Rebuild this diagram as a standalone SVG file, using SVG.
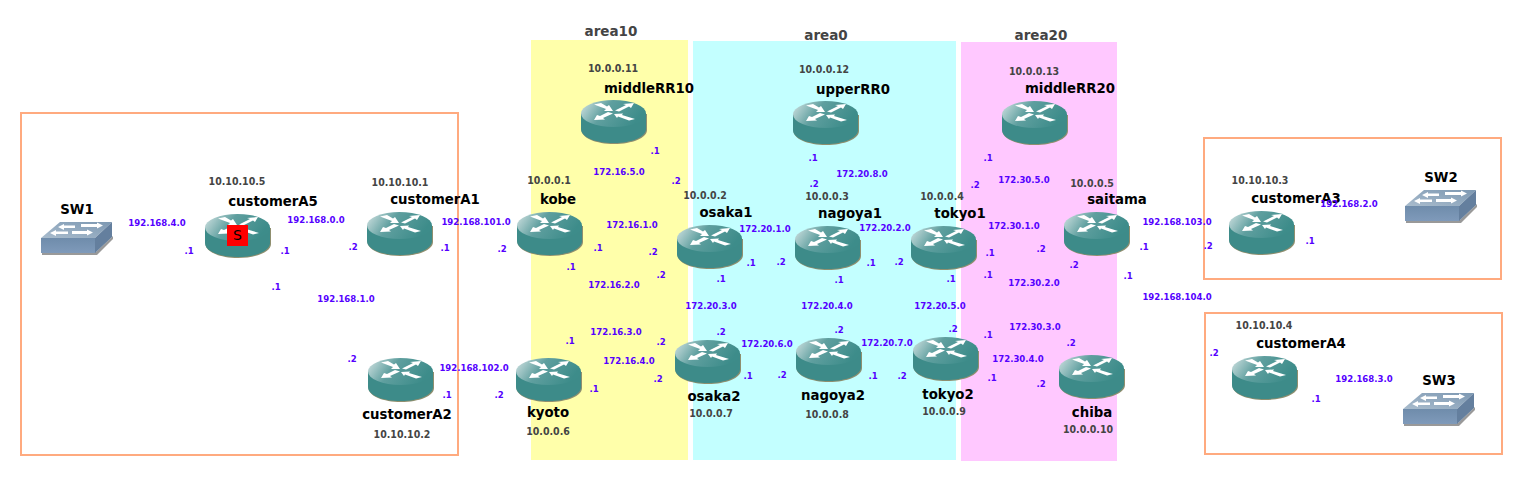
<svg xmlns="http://www.w3.org/2000/svg" width="1523" height="482" viewBox="0 0 1523 482">
<style>
text{font-family:"DejaVu Sans",sans-serif;font-weight:bold}
.n{font-size:13.300px;fill:#000;text-anchor:middle}
.a{font-size:10.500px;fill:#444;text-anchor:middle;font-stretch:condensed}
.t{font-size:13.500px;fill:#444;text-anchor:middle}
.s{font-size:9.500px;fill:#5500ff;text-anchor:middle;font-stretch:condensed}
.b{fill:#fff;stroke:#ffaa7f;stroke-width:2}
</style>
<defs>
<linearGradient id="rt" x1="0" y1="0" x2="1" y2="0.3"><stop offset="0" stop-color="#d5e4e4"/><stop offset="0.45" stop-color="#5f9f9f"/><stop offset="1" stop-color="#3d8c8a"/></linearGradient>
<linearGradient id="sf" x1="0" y1="0" x2="0" y2="1"><stop offset="0" stop-color="#6f8cab"/><stop offset="1" stop-color="#7f9aba"/></linearGradient>
<linearGradient id="st" x1="0" y1="1" x2="1" y2="0"><stop offset="0" stop-color="#a9bccd"/><stop offset="1" stop-color="#7d98b2"/></linearGradient>
<g id="router">
<path d="M0.500 14V30C0.500 38 15 44 33 44S66 38 66 30V14Z" fill="#8f8f6f"/>
<path d="M0 13V29C0 37 14 43 32.500 43S65 37 65 29V13Z" fill="#3d8b89"/>
<ellipse cx="32.500" cy="13.500" rx="32.500" ry="13.500" fill="url(#rt)"/>
<g fill="#fff">
<path d="M13 4.500L20 3L26 6.500L28 5L32 11L23 11L25 9Z"/>
<path d="M34 10.500L45 5L42 4L53 3L50 8L48 6.500L38 11.500Z"/>
<path d="M13 20L16 15L19 16L27 12L32 13.500L22 18L24 19.500Z"/>
<path d="M33 14L42 13.500L41 15L54 19L48 20.500L37 16.500L36 18Z"/>
</g>
</g>
<g id="switch">
<path d="M1 30H55L72 14V17L56 33H1Z" fill="#999"/>
<path d="M0 16L19 0H71L54 16Z" fill="url(#st)"/>
<path d="M0 16H54V31H0Z" fill="url(#sf)"/>
<path d="M54 16L71 0V15L54 31Z" fill="#647f9e"/>
<g fill="#fff">
<path d="M9 11L15 8V9.500H27V12H15V14Z"/>
<path d="M17 5L23 2V3.500H34V6H23V8Z"/>
<path d="M62 3.500L56 0.500V2H40V5H56V6.500Z"/>
<path d="M52 10.500L46 7.500V9H31V12H46V13.500Z"/>
</g>
</g>
</defs>
<g id="areas">
<rect x="531" y="40" width="157" height="420" fill="#ffffaa"/>
<rect x="693" y="41" width="263" height="419" fill="#c3ffff"/>
<rect x="961" y="42" width="156" height="419" fill="#ffc8ff"/>
<text class="t" x="611" y="36">area10</text>
<text class="t" x="826" y="40">area0</text>
<text class="t" x="1041" y="40">area20</text>
</g>
<g id="boxes">
<rect class="b" x="21" y="113" width="437" height="342"/>
<rect class="b" x="1204" y="138" width="297" height="141"/>
<rect class="b" x="1205" y="313" width="297" height="141"/>
</g>
<g id="connectors"></g>
<g id="SW1"><use href="#switch" x="41" y="222"/><text class="n" x="77" y="214">SW1</text></g>
<g id="customerA5"><use href="#router" x="205" y="214"/><rect x="227" y="225" width="21" height="21" fill="#f00"/><text x="237.500" y="240" font-size="14" text-anchor="middle" style="font-weight:normal">S</text><text class="a" x="237" y="185">10.10.10.5</text><text class="n" x="273" y="206">customerA5</text></g>
<g id="customerA1"><use href="#router" x="367" y="212"/><text class="a" x="400" y="186">10.10.10.1</text><text class="n" x="435" y="204">customerA1</text></g>
<g id="customerA2"><use href="#router" x="368" y="358"/><text class="n" x="407" y="419">customerA2</text><text class="a" x="402" y="438">10.10.10.2</text></g>
<g id="kobe"><use href="#router" x="517" y="212"/><text class="a" x="549" y="184">10.0.0.1</text><text class="n" x="558" y="204">kobe</text></g>
<g id="kyoto"><use href="#router" x="516" y="358"/><text class="n" x="548" y="417">kyoto</text><text class="a" x="548" y="435">10.0.0.6</text></g>
<g id="middleRR10"><use href="#router" x="581" y="100"/><text class="a" x="613" y="72">10.0.0.11</text><text class="n" x="649" y="92.500">middleRR10</text></g>
<g id="osaka1"><use href="#router" x="677" y="225"/><text class="a" x="705" y="199">10.0.0.2</text><text class="n" x="726" y="217">osaka1</text></g>
<g id="osaka2"><use href="#router" x="675" y="340"/><text class="n" x="714" y="401">osaka2</text><text class="a" x="711" y="417">10.0.0.7</text></g>
<g id="upperRR0"><use href="#router" x="793" y="101"/><text class="a" x="824" y="73">10.0.0.12</text><text class="n" x="853" y="94">upperRR0</text></g>
<g id="nagoya1"><use href="#router" x="795" y="226"/><text class="a" x="827" y="200">10.0.0.3</text><text class="n" x="850" y="218">nagoya1</text></g>
<g id="nagoya2"><use href="#router" x="796" y="338"/><text class="n" x="833" y="400">nagoya2</text><text class="a" x="827" y="418">10.0.0.8</text></g>
<g id="tokyo1"><use href="#router" x="911" y="226"/><text class="a" x="942" y="200">10.0.0.4</text><text class="n" x="960" y="218">tokyo1</text></g>
<g id="tokyo2"><use href="#router" x="913" y="337"/><text class="n" x="948" y="399">tokyo2</text><text class="a" x="944" y="415">10.0.0.9</text></g>
<g id="middleRR20"><use href="#router" x="1002" y="101"/><text class="a" x="1034" y="75">10.0.0.13</text><text class="n" x="1070" y="93">middleRR20</text></g>
<g id="saitama"><use href="#router" x="1064" y="212"/><text class="a" x="1092" y="187">10.0.0.5</text><text class="n" x="1117" y="204">saitama</text></g>
<g id="chiba"><use href="#router" x="1059" y="355"/><text class="n" x="1092" y="417">chiba</text><text class="a" x="1088" y="433">10.0.0.10</text></g>
<g id="customerA3"><use href="#router" x="1229" y="211"/><text class="a" x="1260" y="184">10.10.10.3</text><text class="n" x="1296" y="203">customerA3</text></g>
<g id="customerA4"><use href="#router" x="1232" y="356"/><text class="a" x="1264" y="329">10.10.10.4</text><text class="n" x="1301" y="348">customerA4</text></g>
<g id="SW2"><use href="#switch" x="1405" y="190"/><text class="n" x="1441" y="182">SW2</text></g>
<g id="SW3"><use href="#switch" x="1403" y="393"/><text class="n" x="1439" y="385">SW3</text></g>
<g id="labels">
<text class="s" x="157" y="226">192.168.4.0</text><text class="s" x="189" y="254">.1</text>
<text class="s" x="316" y="223">192.168.0.0</text><text class="s" x="285" y="254">.1</text><text class="s" x="353" y="250">.2</text>
<text class="s" x="276" y="290">.1</text><text class="s" x="346" y="302">192.168.1.0</text><text class="s" x="352" y="362">.2</text>
<text class="s" x="476" y="225">192.168.101.0</text><text class="s" x="445" y="251">.1</text><text class="s" x="502" y="252">.2</text>
<text class="s" x="474" y="371">192.168.102.0</text><text class="s" x="447" y="398">.1</text><text class="s" x="499" y="398">.2</text>
<text class="s" x="655" y="154">.1</text><text class="s" x="619" y="175">172.16.5.0</text><text class="s" x="676" y="184">.2</text>
<text class="s" x="632" y="228">172.16.1.0</text><text class="s" x="598" y="251">.1</text><text class="s" x="653" y="255">.2</text>
<text class="s" x="571" y="270">.1</text><text class="s" x="661" y="278">.2</text><text class="s" x="614" y="288">172.16.2.0</text>
<text class="s" x="616" y="335">172.16.3.0</text><text class="s" x="570" y="344">.1</text><text class="s" x="661" y="345">.2</text>
<text class="s" x="629" y="364">172.16.4.0</text><text class="s" x="658" y="382">.2</text><text class="s" x="594" y="392">.1</text>
<text class="s" x="765" y="232">172.20.1.0</text><text class="s" x="751" y="266">.1</text><text class="s" x="781" y="265">.2</text><text class="s" x="721" y="282">.1</text>
<text class="s" x="711" y="309">172.20.3.0</text><text class="s" x="721" y="335">.2</text><text class="s" x="767" y="347">172.20.6.0</text><text class="s" x="748" y="379">.1</text><text class="s" x="782" y="378">.2</text>
<text class="s" x="813" y="161">.1</text><text class="s" x="862" y="177">172.20.8.0</text><text class="s" x="814" y="187">.2</text>
<text class="s" x="885" y="231">172.20.2.0</text><text class="s" x="871" y="266">.1</text><text class="s" x="899" y="265">.2</text><text class="s" x="839" y="283">.1</text>
<text class="s" x="827" y="309">172.20.4.0</text><text class="s" x="839" y="333">.2</text><text class="s" x="887" y="346">172.20.7.0</text><text class="s" x="873" y="379">.1</text><text class="s" x="902" y="379">.2</text>
<text class="s" x="940" y="309">172.20.5.0</text><text class="s" x="951" y="282">.1</text><text class="s" x="953" y="332">.2</text>
<text class="s" x="988" y="161">.1</text><text class="s" x="975" y="188">.2</text><text class="s" x="1024" y="183">172.30.5.0</text>
<text class="s" x="1014" y="229">172.30.1.0</text><text class="s" x="990" y="256">.1</text><text class="s" x="1041" y="252">.2</text><text class="s" x="988" y="278">.1</text><text class="s" x="1074" y="268">.2</text>
<text class="s" x="1034" y="286">172.30.2.0</text><text class="s" x="1035" y="330">172.30.3.0</text><text class="s" x="988" y="338">.1</text><text class="s" x="1071" y="346">.2</text>
<text class="s" x="1018" y="362">172.30.4.0</text><text class="s" x="992" y="381">.1</text><text class="s" x="1041" y="387">.2</text>
<text class="s" x="1177" y="225">192.168.103.0</text><text class="s" x="1144" y="250">.1</text><text class="s" x="1208" y="249">.2</text>
<text class="s" x="1128" y="279">.1</text><text class="s" x="1177" y="300">192.168.104.0</text>
<text class="s" x="1349" y="207">192.168.2.0</text><text class="s" x="1310" y="244">.1</text>
<text class="s" x="1214" y="356">.2</text><text class="s" x="1364" y="382">192.168.3.0</text><text class="s" x="1316" y="402">.1</text>
</g>
</svg>
